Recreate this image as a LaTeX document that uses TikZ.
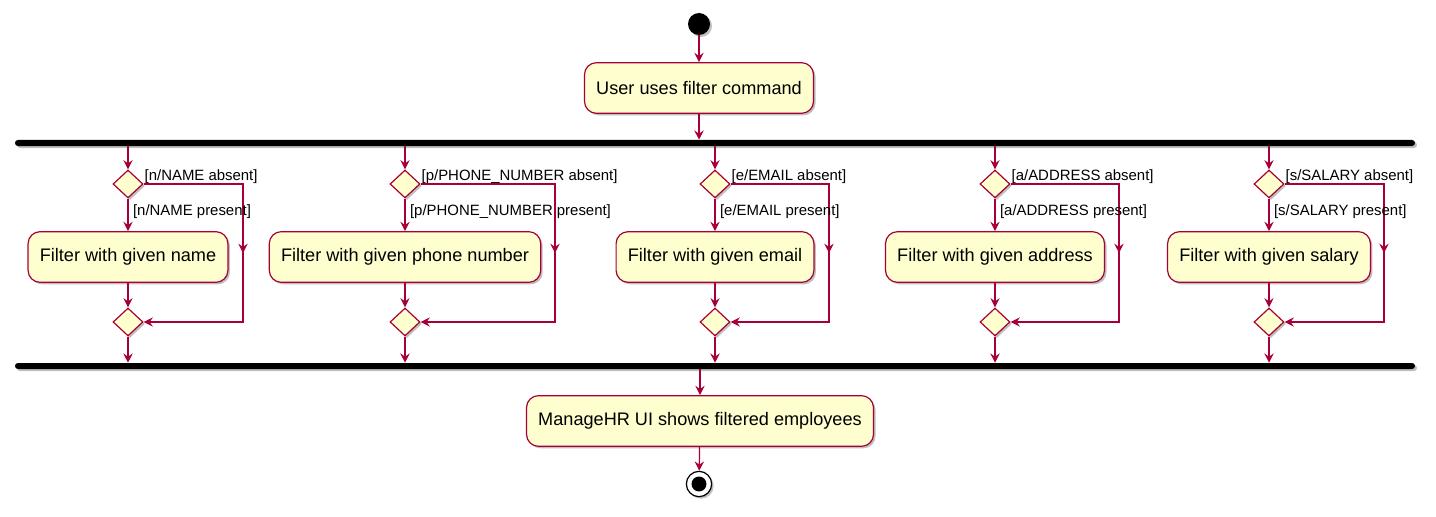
\documentclass[tikz,border=0pt]{standalone}
\usepackage{fontspec}
\setmainfont{Liberation Sans}
\usepackage{xcolor}
\usepackage{tikz}
\usetikzlibrary{arrows.meta, positioning, shapes.geometric, shadows, decorations.markings}
\definecolor{umlred}{HTML}{A80036}
\definecolor{umlfill}{HTML}{FEFECE}

\begin{document}
\begin{tikzpicture}[x=0.75pt, y=-0.75pt, >={Stealth[length=7pt, width=7pt, inset=2.5pt]},
  umlshadow/.style={drop shadow={shadow xshift=1.5pt, shadow yshift=-1.5pt, fill=black, opacity=0.25}},
  line/.style={draw=umlred, line width=0.9pt},
  flow/.style={line, ->},
  midflow/.style={line, ->, postaction={decorate},
    decoration={markings, mark=at position 0.5 with {\arrow{Stealth[length=7pt, width=7pt, inset=2.5pt]}}}},
  action/.style={draw=umlred, fill=umlfill, line width=0.9pt, rounded corners=9pt, minimum height=38pt,
    inner xsep=8.8pt, font=\fontsize{13.6}{16}\selectfont, umlshadow},
  choice/.style={diamond, draw=umlred, fill=umlfill, line width=0.9pt, minimum width=22.5pt,
    minimum height=21pt, inner sep=0pt, umlshadow},
  guard/.style={font=\fontsize{11.2}{13}\selectfont, inner sep=0pt},
  bar/.style={fill=black, rounded corners=2.2pt, minimum width=1050pt, minimum height=4.5pt, inner sep=0pt, umlshadow},
  startdot/.style={circle, fill=black, minimum size=16.5pt, inner sep=0pt, umlshadow},
  enddot/.style={circle, draw=black, fill=white, line width=0.9pt, minimum size=19pt, inner sep=0pt, umlshadow}]
  \useasboundingbox (0,0) rectangle (1436,517);

  % start and command
  \node[startdot] (start) at (699,24) {};
  \node[action] (cmd) at (699,88) {User uses filter command};
  \draw[flow] (start) -- (cmd);

  % fork and merge bars
  \node[bar] (fork) at (715,143) {};
  \node[bar] (merge) at (715,366) {};
  \draw[flow] (cmd) -- (cmd |- fork.north);

  % one branch per filter field
  \foreach \i/\x/\rx/\what/\key in {1/128/243/name/{n/NAME}, 2/405/555/phone number/{p/PHONE\_NUMBER},
      3/715/829/email/{e/EMAIL}, 4/995/1119/address/{a/ADDRESS}, 5/1269/1384/salary/{s/SALARY}} {
    \node[choice] (top\i) at (\x,184) {};
    \node[action] (act\i) at (\x,257) {Filter with given \what};
    \node[choice] (join\i) at (\x,322) {};
    \coordinate (bend\i) at (\rx,322);
    \draw[flow] (top\i |- fork.south) -- (top\i);
    \draw[flow] (top\i) -- (act\i);
    \draw[flow] (act\i) -- (join\i);
    \draw[flow] (join\i) -- (join\i |- merge.north);
    \draw[midflow] (top\i.east) -| (bend\i) -- (join\i.east);
    \node[guard, anchor=base west] (no\i) at ([xshift=0.6pt, yshift=2.4pt]top\i.east) {[\key\ absent]};
    \node[guard, anchor=base west] (yes\i) at ([xshift=3.6pt, yshift=-12.6pt]top\i.south) {[\key\ present]};
  }

  % result and end
  \node[action] (show) at (700,421) {ManageHR UI shows filtered employees};
  \draw[flow] (merge.south -| show) -- (show);
  \node[enddot] (stop) at (699,484) {};
  \fill[black] (stop.center) circle (5.6pt);
  \draw[flow] (show) -- (stop);
\end{tikzpicture}
\end{document}
